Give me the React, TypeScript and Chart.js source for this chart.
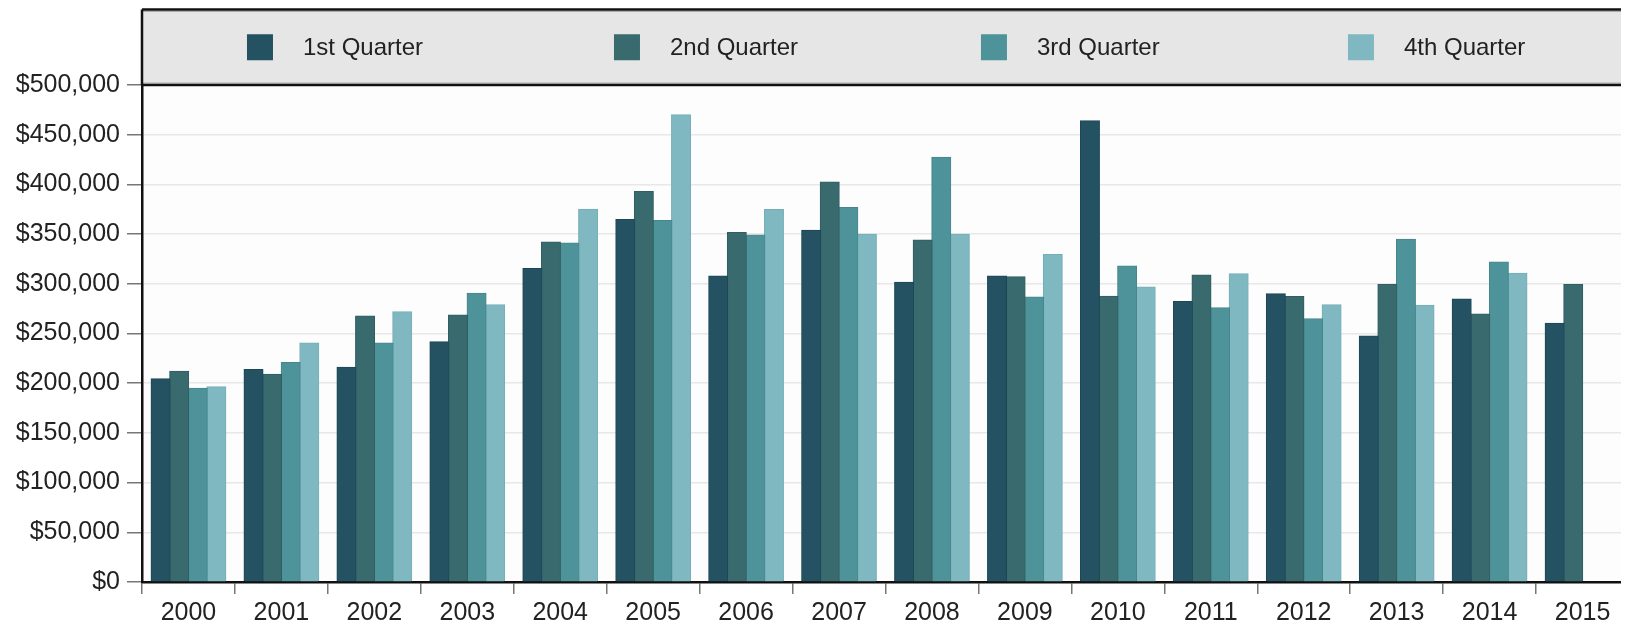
import React, { useEffect, useRef } from 'react';
import { Chart, registerables } from 'chart.js';

Chart.register(...registerables);

const years = ['2000', '2001', '2002', '2003', '2004', '2005', '2006', '2007', '2008', '2009', '2010', '2011', '2012', '2013', '2014', '2015'];
const q1 = [204300, 213700, 215800, 241600, 315100, 364400, 307700, 353700, 301300, 307700, 463800, 281900, 289900, 247300, 284500, 260000];
const q2 = [211700, 208700, 267400, 268400, 341900, 392600, 351300, 402300, 343900, 307000, 287200, 308700, 286900, 299000, 269400, 299000];
const q3 = [194600, 220500, 240200, 290300, 340900, 363400, 349000, 376500, 427200, 286600, 317800, 275700, 264700, 344600, 321800, null];
const q4 = [196300, 240200, 271800, 278800, 374800, 469800, 374500, 349700, 349700, 329200, 296600, 310000, 278800, 278200, 310400, null];
const seriesNames = ['1st Quarter', '2nd Quarter', '3rd Quarter', '4th Quarter'];
const seriesColors = ['#245262', '#386a6e', '#4e9399', '#7fb8c0'];
const seriesEdges = ['#1e4756', '#305e62', '#46868c', '#76aeb6'];

const FONT = "'Liberation Sans', Arial, Helvetica, sans-serif";

const legendBoxPlugin = {
  id: 'legendBox',
  beforeDraw(chart: any) {
    const { ctx, chartArea } = chart;
    ctx.save();
    ctx.fillStyle = '#fdfdfd';
    ctx.fillRect(chartArea.left, chartArea.top, chartArea.right - chartArea.left, chartArea.bottom - chartArea.top);
    ctx.restore();
  },
  afterDraw(chart: any) {
    const { ctx, chartArea } = chart;
    const left = chartArea.left;
    const right = chart.width;
    const top = 1.5;
    const bottom = chartArea.top;
    const w = chartArea.right - chartArea.left;
    ctx.save();
    ctx.fillStyle = '#e6e6e6';
    ctx.fillRect(left, top, right - left, bottom - top);
    ctx.strokeStyle = '#aaa';
    ctx.lineWidth = 1;
    ctx.beginPath();
    ctx.moveTo(left, top + 2);
    ctx.lineTo(right, top + 2);
    ctx.moveTo(left, bottom - 2);
    ctx.lineTo(right, bottom - 2);
    ctx.stroke();
    ctx.strokeStyle = '#111';
    ctx.lineWidth = 2.5;
    ctx.beginPath();
    ctx.moveTo(left, top);
    ctx.lineTo(right, top);
    ctx.moveTo(left, bottom);
    ctx.lineTo(right, bottom);
    ctx.moveTo(left, top);
    ctx.lineTo(left, bottom);
    ctx.stroke();
    const cy = (top + bottom) / 2;
    chart.data.datasets.forEach((ds: any, i: number) => {
      const x = left + w * (0.0706 + i * 0.2468);
      const size = 26;
      ctx.fillStyle = ds.backgroundColor;
      ctx.fillRect(x, cy - size / 2, size, size);
      ctx.fillStyle = '#222';
      ctx.font = `24px ${FONT}`;
      ctx.textAlign = 'left';
      ctx.textBaseline = 'middle';
      ctx.fillText(ds.label, x + 56, cy + 1);
    });
    ctx.restore();
  },
};

export default function App() {
  const canvasRef = useRef<HTMLCanvasElement | null>(null);

  useEffect(() => {
    if (!canvasRef.current) return;
    Chart.defaults.font.family = FONT;
    const seriesData = [q1, q2, q3, q4];
    const chart = new Chart(canvasRef.current, {
      type: 'bar',
      data: {
        labels: years,
        datasets: seriesNames.map((name, i) => ({
          label: name,
          data: seriesData[i],
          backgroundColor: seriesColors[i],
          borderColor: seriesEdges[i],
          borderWidth: 1,
          inflateAmount: 0.7,
          categoryPercentage: 0.8,
          barPercentage: 1.0,
        })),
      },
      options: {
        animation: false,
        responsive: true,
        maintainAspectRatio: false,
        layout: { padding: { top: 77, right: 0, left: 0, bottom: 0 } },
        plugins: {
          legend: { display: false },
          tooltip: { enabled: false },
        },
        scales: {
          x: {
            grid: { drawOnChartArea: false, offset: true, tickLength: 12, tickColor: '#777', lineWidth: 1.5 },
            border: { color: '#111', width: 2.5 },
            ticks: { color: '#222', font: { size: 25 }, padding: 4, maxRotation: 0 },
            afterFit: (scale: any) => { scale.height = 48; },
          },
          y: {
            min: 0,
            max: 500000,
            grid: { color: '#e8e8e8', lineWidth: 1.5, tickLength: 15, tickColor: '#777' },
            border: { color: '#111', width: 2.5 },
            ticks: {
              stepSize: 50000,
              color: '#222',
              font: { size: 25 },
              padding: 7,
              callback: (v: any) => '$' + Number(v).toLocaleString('en-US'),
            },
            afterFit: (scale: any) => { scale.width = 134; },
          },
        },
      },
      plugins: [legendBoxPlugin],
    });
    return () => chart.destroy();
  }, []);

  return (
    <div style={{ width: '1621px', height: '622px', position: 'relative' }}>
      <canvas ref={canvasRef} />
    </div>
  );
}
